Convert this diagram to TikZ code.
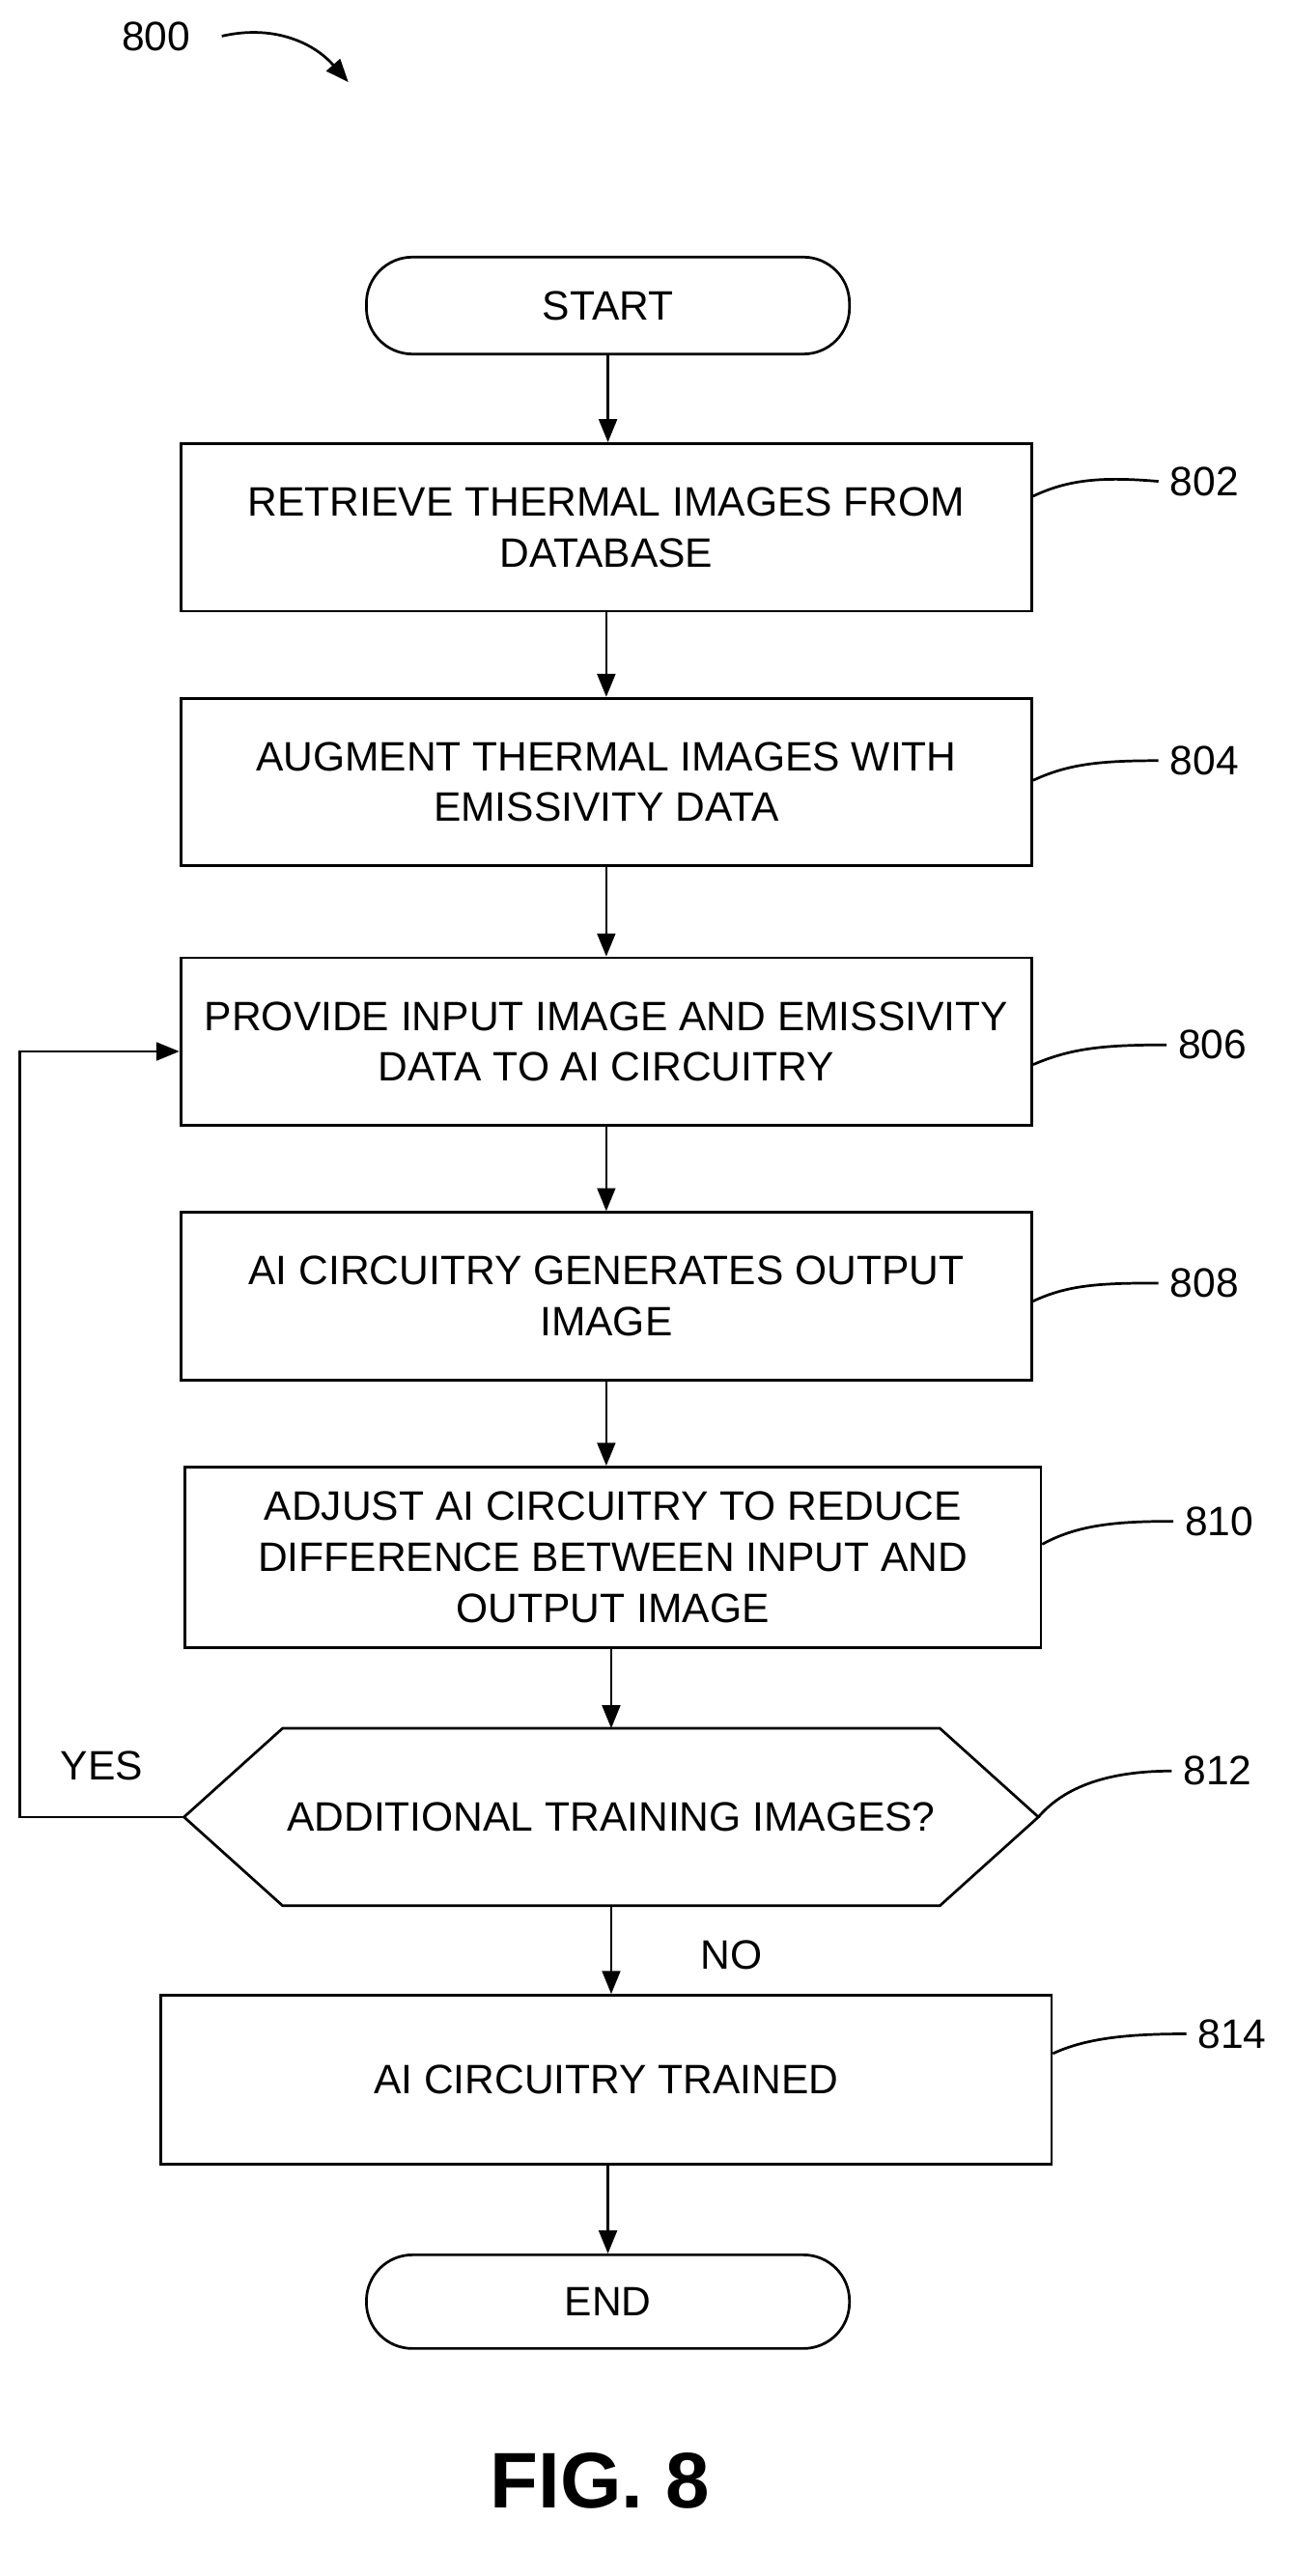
\documentclass[tikz,border=0pt]{standalone}
\usepackage{fontspec}
\setmainfont{Liberation Sans}
\usetikzlibrary{arrows.meta}
\begin{document}
\begin{tikzpicture}[x=0.5pt,y=-0.5pt,
  txt/.style={font=\fontsize{12.5}{15.5}\selectfont,align=center},
  box/.style={draw,line width=0.8pt,txt,inner sep=0pt},
  arr/.style={-{Triangle[length=7pt,width=5.5pt]},line width=0.8pt},
  lead/.style={line width=0.8pt},
  ref/.style={txt}]
\useasboundingbox (0,0) rectangle (786,1568);
\node[ref] (n800) at (95,22) {800};
\coordinate (a800) at (212,50);
\draw[arr] (135,22) .. controls (165,15) and (190,25) .. (a800);

\node[box,rounded corners=14pt,minimum width=147pt,minimum height=29.5pt] (start) at (370,186) {START};
\node[box,minimum width=259pt,minimum height=51pt] (b802) at (369,321) {RETRIEVE THERMAL IMAGES FROM\\DATABASE};
\node[box,minimum width=259pt,minimum height=51pt] (b804) at (369,476) {AUGMENT THERMAL IMAGES WITH\\EMISSIVITY DATA};
\node[box,minimum width=259pt,minimum height=51pt] (b806) at (369,634) {PROVIDE INPUT IMAGE AND EMISSIVITY\\DATA TO AI CIRCUITRY};
\node[box,minimum width=259pt,minimum height=51pt] (b808) at (369,789) {AI CIRCUITRY GENERATES OUTPUT\\IMAGE};
\node[box,minimum width=260.5pt,minimum height=55pt] (b810) at (373,948) {ADJUST AI CIRCUITRY TO REDUCE\\DIFFERENCE BETWEEN INPUT AND\\OUTPUT IMAGE};
\draw[line width=0.8pt] (112,1106) -- (172,1052) -- (572,1052) -- (632,1106) -- (572,1160) -- (172,1160) -- cycle;
\node[txt] (b812) at (372,1106) {ADDITIONAL TRAINING IMAGES?};
\coordinate (d812l) at (112,1106);
\coordinate (d812t) at (372,1052);
\coordinate (d812b) at (372,1160);
\coordinate (d812r) at (632,1106);
\node[box,minimum width=271pt,minimum height=51.5pt] (b814) at (369,1266) {AI CIRCUITRY TRAINED};
\node[box,rounded corners=14pt,minimum width=147pt,minimum height=28.5pt] (endn) at (370,1401) {END};

\draw[arr] (start) -- (start |- b802.north);
\draw[arr] (b802) -- (b802 |- b804.north);
\draw[arr] (b804) -- (b804 |- b806.north);
\draw[arr] (b806) -- (b806 |- b808.north);
\draw[arr] (b808) -- (b808 |- b810.north);
\draw[arr] (b810.south -| d812t) -- (d812t);
\draw[arr] (d812b) -- (d812b |- b814.north);
\draw[arr] (b814.south -| endn) -- (endn);
\coordinate (lp1) at (12,1106);
\coordinate (lp2) at (12,640);
\draw[arr] (d812l) -- (lp1) -- (lp2) -- (b806.west |- lp2);
\node[txt] (yes) at (62,1075) {YES};
\node[txt] (no) at (445,1190) {NO};

\node[ref] (n802) at (733,293) {802};
\node[ref] (n804) at (733,463) {804};
\node[ref] (n806) at (738,636) {806};
\node[ref] (n808) at (733,781) {808};
\node[ref] (n810) at (742,926) {810};
\node[ref] (n812) at (741,1078) {812};
\node[ref] (n814) at (750,1238) {814};
\draw[lead] (b802.east |- 0,302) .. controls (650,292) and (670,290) .. (n802.west);
\draw[lead] (b804.east |- 0,475) .. controls (650,465) and (670,463) .. (n804.west);
\draw[lead] (b806.east |- 0,648) .. controls (652,638) and (672,636) .. (n806.west);
\draw[lead] (b808.east |- 0,792) .. controls (650,782) and (670,781) .. (n808.west);
\draw[lead] (b810.east |- 0,940) .. controls (656,928) and (680,926) .. (n810.west);
\draw[lead] (d812r) .. controls (650,1085) and (680,1078) .. (n812.west);
\draw[lead] (b814.east |- 0,1250) .. controls (662,1240) and (690,1238) .. (n814.west);

\node[font=\bfseries\fontsize{24}{28}\selectfont] (fig) at (365,1510) {FIG. 8};
\end{tikzpicture}
\end{document}
